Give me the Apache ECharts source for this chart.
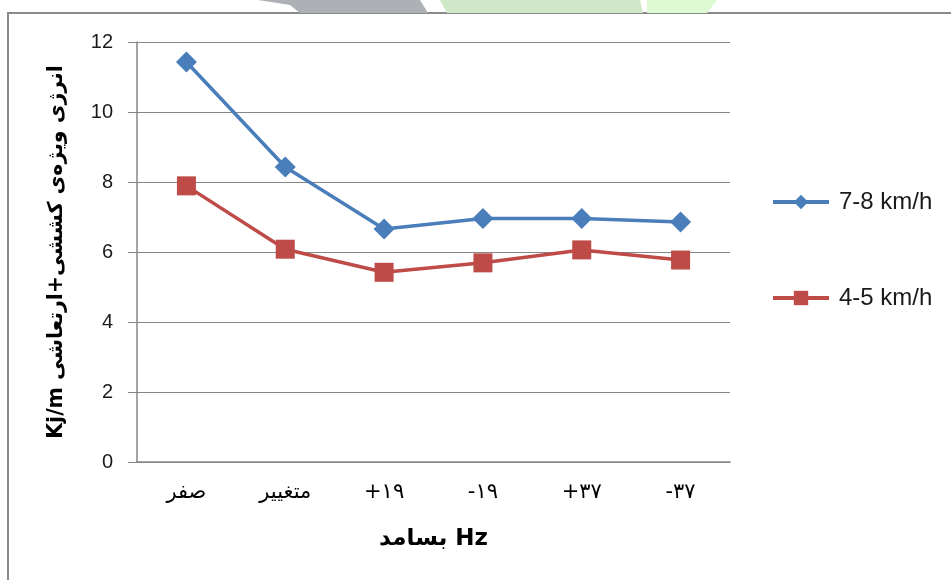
<!DOCTYPE html>
<html>
<head>
<meta charset="utf-8">
<script src="https://cdn.jsdelivr.net/npm/echarts@6/dist/echarts.min.js"></script>
<style>
html,body{margin:0;padding:0;background:#fff;}
#main{width:951px;height:580px;}
</style>
</head>
<body>
<div id="main"></div>
<script>
// دسته‌ها و داده‌ها
var categories = ['صفر', 'متغییر', '+۱۹', '-۱۹', '+۳۷', '-۳۷'];
var speedHigh = [11.43, 8.43, 6.66, 6.96, 6.96, 6.86];   // 7-8 km/h
var speedLow = [7.89, 6.08, 5.42, 5.69, 6.06, 5.77];     // 4-5 km/h
var yTicks = [0, 2, 4, 6, 8, 10, 12];

var arFont = '"DejaVu Sans", sans-serif';
var latFont = '"Liberation Sans", Arial, sans-serif';

var myChart = echarts.init(document.getElementById('main'));

option = {
    backgroundColor: '#fff',
    animation: false,
    graphic: [
        // watermark pieces peeking above the frame
        {type: 'polygon', shape: {points: [[258, 0], [420, 0], [428, 13], [300, 13], [290, 5]]},
            style: {fill: '#adb1b5'}, silent: true},
        {type: 'polygon', shape: {points: [[440, 0], [640, 0], [643, 13], [447, 13]]},
            style: {fill: '#cfe8c8'}, silent: true},
        {type: 'polygon', shape: {points: [[647, 0], [717, 0], [707, 13], [647, 13]]},
            style: {fill: '#dcf9d2'}, silent: true},
        {
            type: 'rect',
            shape: {x: 8, y: 13, width: 960, height: 590},
            style: {fill: '#fff', stroke: '#8a8a8a', lineWidth: 2},
            z: -1,
            silent: true
        }
    ],
    legend: {
        orient: 'vertical',
        left: 771,
        top: 190,
        padding: 0,
        itemGap: 72,
        itemWidth: 56,
        itemHeight: 18,
        lineStyle: {width: 4},
        textStyle: {fontFamily: latFont, fontSize: 24, color: '#1a1a1a', padding: [0, 0, 0, 5]},
        data: ['7-8 km/h', '4-5 km/h']
    },
    grid: {
        left: 137,
        top: 42,
        width: 593,
        height: 420
    },
    xAxis: {
        type: 'category',
        data: categories,
        boundaryGap: true,
        name: 'بسامد Hz',
        nameLocation: 'middle',
        nameGap: 66,
        nameTextStyle: {fontFamily: arFont, fontSize: 23, fontWeight: 'bold', color: '#000'},
        axisLine: {lineStyle: {color: '#868686', width: 1.5}},
        axisTick: {show: false},
        axisLabel: {margin: 20, fontFamily: arFont, fontSize: 21, color: '#000'}
    },
    yAxis: {
        type: 'value',
        min: yTicks[0],
        max: yTicks[yTicks.length - 1],
        interval: 2,
        name: 'Kj/m انرژی ویژه‌ی کششی+ارتعاشی',
        nameLocation: 'middle',
        nameGap: 70,
        nameRotate: 90,
        nameTextStyle: {fontFamily: arFont, fontSize: 20.5, fontWeight: 'bold', color: '#000'},
        axisLine: {show: true, lineStyle: {color: '#868686', width: 1.5}},
        axisTick: {show: true, length: 9, lineStyle: {color: '#868686'}},
        splitLine: {lineStyle: {color: '#868686', width: 1.2}},
        axisLabel: {margin: 24, fontFamily: latFont, fontSize: 20, color: '#1a1a1a'}
    },
    series: [
        {
            name: '7-8 km/h',
            type: 'line',
            data: speedHigh,
            symbol: 'diamond',
            symbolSize: 21,
            lineStyle: {width: 3.5, color: '#4a7ebb'},
            itemStyle: {color: '#4a7ebb'}
        },
        {
            name: '4-5 km/h',
            type: 'line',
            data: speedLow,
            symbol: 'rect',
            symbolSize: 19,
            lineStyle: {width: 3.5, color: '#be4b48'},
            itemStyle: {color: '#be4b48'}
        }
    ]
};

myChart.setOption(option);
</script>
</body>
</html>
